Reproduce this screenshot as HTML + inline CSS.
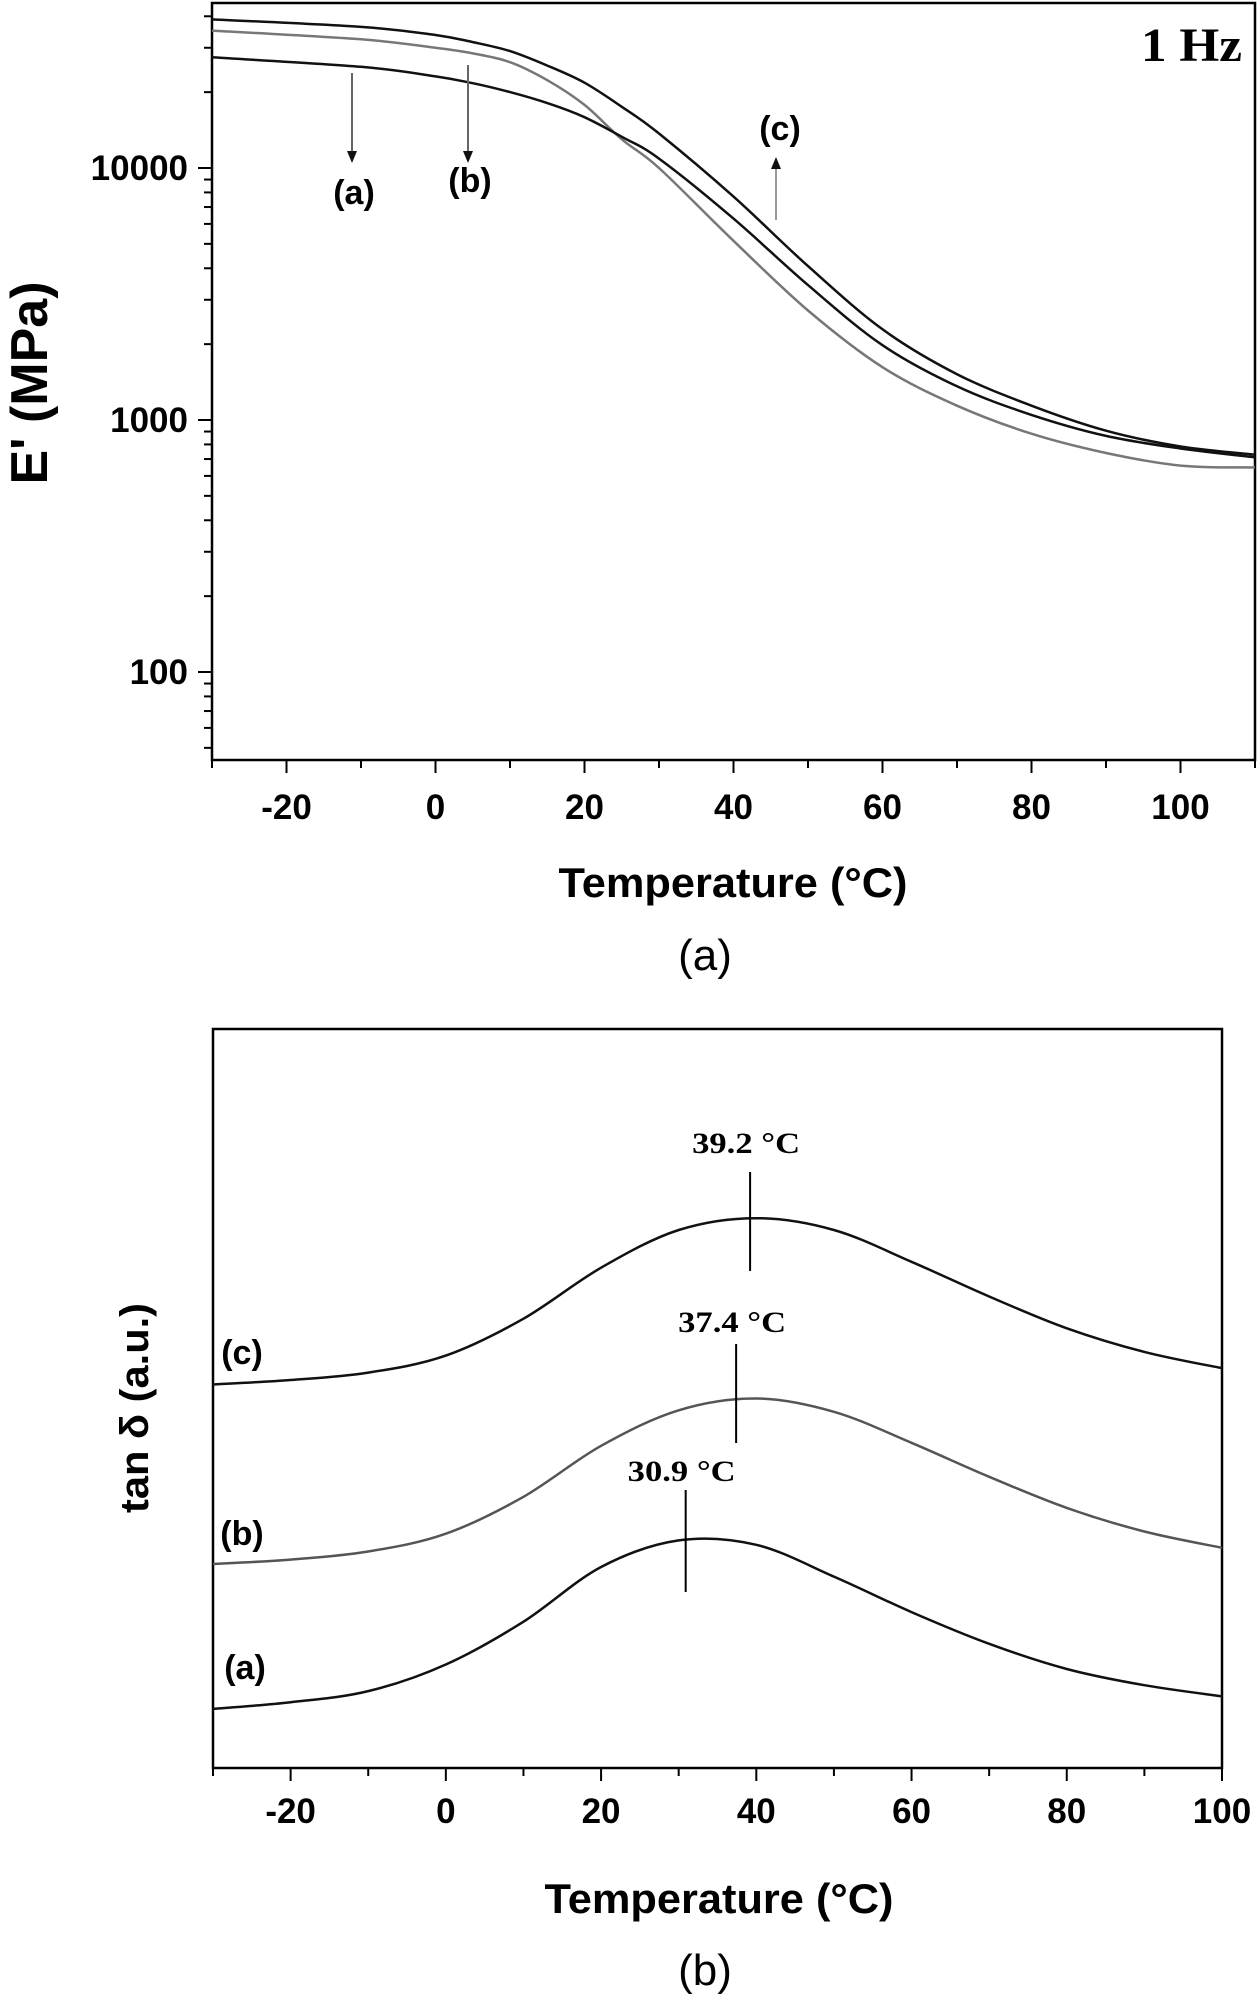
<!DOCTYPE html>
<html><head><meta charset="utf-8"><style>
html,body{margin:0;padding:0;background:#fff;}
svg{display:block;}
text{font-family:"Liberation Sans",Arial,sans-serif;}
.serif{font-family:"Liberation Serif","Times New Roman",serif;}
</style></head><body>
<svg id="fig" width="1260" height="2000" viewBox="0 0 1260 2000" xmlns="http://www.w3.org/2000/svg">
<g id="top"></g>
<g id="bot"></g>
</svg>
<script>
// ---- Chart (a): storage modulus E' ----
const tempsA = [-30,-10,0,5,10,15,20,25,30,40,50,60,70,80,90,100,110];
const eC = [38900,36300,33700,31600,29100,25500,21800,17500,13700,7700,4080,2290,1520,1140,907,785,728];
const eB = [35100,32400,30000,28500,26300,22300,17800,13000,10000,5140,2720,1620,1140,882,740,659,648];
const eA = [27500,25200,23100,21700,20000,18100,15900,13300,10900,6300,3430,1980,1360,1048,865,771,711];
const xTicksA = [-20,0,20,40,60,80,100];
const yTicksA = [100,1000,10000];
const yTickLabelsA = ["100","1000","10000"];

// ---- Chart (b): tan delta ----
const tempsB = [-30,-20,-10,0,10,20,30,40,50,60,70,80,90,100];
const tC = [0.519,0.525,0.535,0.558,0.608,0.677,0.728,0.744,0.728,0.685,0.638,0.595,0.563,0.541];
const tB = [0.276,0.282,0.293,0.317,0.367,0.436,0.484,0.500,0.482,0.440,0.394,0.352,0.320,0.298];
const tA = [0.080,0.089,0.104,0.140,0.198,0.272,0.308,0.302,0.259,0.211,0.168,0.134,0.112,0.097];
const xTicksB = [-20,0,20,40,60,80,100];
const peakTemps = [30.9,37.4,39.2];
const peakLabels = ["30.9 °C","37.4 °C","39.2 °C"];

const NS="http://www.w3.org/2000/svg";
function mk(parent,tag,attrs,txt){const e=document.createElementNS(NS,tag);for(const k in attrs)e.setAttribute(k,attrs[k]);if(txt!==undefined)e.textContent=txt;parent.appendChild(e);return e;}
function smooth(pts){let d="M"+pts[0][0]+","+pts[0][1];for(let i=0;i<pts.length-1;i++){const p0=pts[Math.max(0,i-1)],p1=pts[i],p2=pts[i+1],p3=pts[Math.min(pts.length-1,i+2)];const c1=[p1[0]+(p2[0]-p0[0])/6,p1[1]+(p2[1]-p0[1])/6];const c2=[p2[0]-(p3[0]-p1[0])/6,p2[1]-(p3[1]-p1[1])/6];d+=" C"+c1[0].toFixed(1)+","+c1[1].toFixed(1)+" "+c2[0].toFixed(1)+","+c2[1].toFixed(1)+" "+p2[0].toFixed(1)+","+p2[1].toFixed(1);}return d;}

// ===== Top chart =====
const T=document.getElementById('top');
const L1=212,R1=1255,T1=3,B1=760;
const xA=t=>L1+(t+30)/140*(R1-L1);
const yA=v=>168-(Math.log10(v)-4)*252;
let e;
e=mk(T,'rect',{x:L1,y:T1,width:R1-L1,height:B1-T1,fill:'none',stroke:'#000','stroke-width':2.5});


for(let t=-30;t<=110;t+=10){const maj=xTicksA.includes(t);e=mk(T,'line',{x1:xA(t),x2:xA(t),y1:B1,y2:B1+(maj?13:8),stroke:'#000','stroke-width':2});

}
xTicksA.forEach(t=>{e=mk(T,'text',{x:xA(t),y:819,'font-size':35,'font-weight':'bold','text-anchor':'middle'},String(t));

});
for(let dec=10;dec<=10000;dec*=10){for(let m=1;m<10;m++){const v=dec*m;const y=yA(v);if(y<T1||y>B1)continue;const maj=(m===1);e=mk(T,'line',{x1:L1,x2:L1-(maj?14:8),y1:y,y2:y,stroke:'#000','stroke-width':2});

}}
yTicksA.forEach((v,i)=>{e=mk(T,'text',{x:188,y:yA(v)+12,'font-size':35,'font-weight':'bold','text-anchor':'end'},yTickLabelsA[i]);

});
[[eC,'#111','curve-c-modulus'],[eB,'#777','curve-b-modulus'],[eA,'#111','curve-a-modulus']].forEach(([arr,col,nm])=>{
e=mk(T,'path',{d:smooth(tempsA.map((t,i)=>[xA(t),yA(arr[i])])),fill:'none',stroke:col,'stroke-width':2.5});

});
function arrow(x,y1,y2,col,name){e=mk(T,'line',{x1:x,x2:x,y1:y1,y2:y2+(y2>y1?-10:10),stroke:col,'stroke-width':2});


const d=y2>y1?1:-1;e=mk(T,'path',{d:`M${x-5},${y2-12*d} L${x+5},${y2-12*d} L${x},${y2} Z`,fill:'#111'});

}
arrow(352,73,163,'#666','arrow-a');
arrow(468,65,163,'#666','arrow-b');
arrow(776,220,157,'#999','arrow-c');
[['(a)',354,204],['(b)',470,192],['(c)',780,140]].forEach(([s,x,y])=>{e=mk(T,'text',{x:x,y:y,'font-size':34,'font-weight':'bold','text-anchor':'middle'},s);

});
e=mk(T,'text',{x:1141,y:61,'font-size':48,'font-weight':'bold',class:'serif',textLength:101,lengthAdjust:'spacingAndGlyphs'},'1 Hz');


e=mk(T,'text',{x:0,y:0,'font-size':52,'font-weight':'bold','text-anchor':'middle',transform:'translate(47,383) rotate(-90)'},"E' (MPa)");


e=mk(T,'text',{x:733,y:897,'font-size':42,'font-weight':'bold','text-anchor':'middle',textLength:349,lengthAdjust:'spacingAndGlyphs'},'Temperature (°C)');


e=mk(T,'text',{x:705,y:970,'font-size':44,'text-anchor':'middle'},'(a)');



// ===== Bottom chart =====
const Bg=document.getElementById('bot');
const L2=213,R2=1222,T2=1029,B2=1768;
const xB=t=>L2+(t+30)/130*(R2-L2);
const yB=v=>B2-v*(B2-T2);
e=mk(Bg,'rect',{x:L2,y:T2,width:R2-L2,height:B2-T2,fill:'none',stroke:'#000','stroke-width':2.5});


for(let t=-30;t<=100;t+=10){const maj=xTicksB.includes(t);e=mk(Bg,'line',{x1:xB(t),x2:xB(t),y1:B2,y2:B2+(maj?13:8),stroke:'#000','stroke-width':2});

}
xTicksB.forEach(t=>{e=mk(Bg,'text',{x:xB(t),y:1823,'font-size':35,'font-weight':'bold','text-anchor':'middle'},String(t));

});
[[tC,'#111','curve-c-tan-delta'],[tB,'#555','curve-b-tan-delta'],[tA,'#111','curve-a-tan-delta']].forEach(([arr,col,nm])=>{
e=mk(Bg,'path',{d:smooth(tempsB.map((t,i)=>[xB(t),yB(arr[i])])),fill:'none',stroke:col,'stroke-width':2.5});

});
const peakLineY=[[1490,1592],[1344,1443],[1172,1271]];
const peakLabelY=[1481,1332,1153];
peakTemps.forEach((t,i)=>{
e=mk(Bg,'line',{x1:xB(t),x2:xB(t),y1:peakLineY[i][0],y2:peakLineY[i][1],stroke:'#000','stroke-width':2});


e=mk(Bg,'text',{x:xB(t)-4,y:peakLabelY[i],'font-size':30,'font-weight':'bold',class:'serif','text-anchor':'middle',textLength:108,lengthAdjust:'spacingAndGlyphs'},peakLabels[i]);

});
[['(c)',242,1364],['(b)',242,1545],['(a)',245,1679]].forEach(([s,x,y])=>{e=mk(Bg,'text',{x:x,y:y,'font-size':34,'font-weight':'bold','text-anchor':'middle'},s);

});
e=mk(Bg,'text',{x:0,y:0,'font-size':40,'font-weight':'bold','text-anchor':'middle',textLength:210,lengthAdjust:'spacingAndGlyphs',transform:'translate(148,1408) rotate(-90)'},'tan δ (a.u.)');


e=mk(Bg,'text',{x:719,y:1913,'font-size':42,'font-weight':'bold','text-anchor':'middle',textLength:349,lengthAdjust:'spacingAndGlyphs'},'Temperature (°C)');


e=mk(Bg,'text',{x:705,y:1985,'font-size':44,'text-anchor':'middle'},'(b)');


</script>
</body></html>
